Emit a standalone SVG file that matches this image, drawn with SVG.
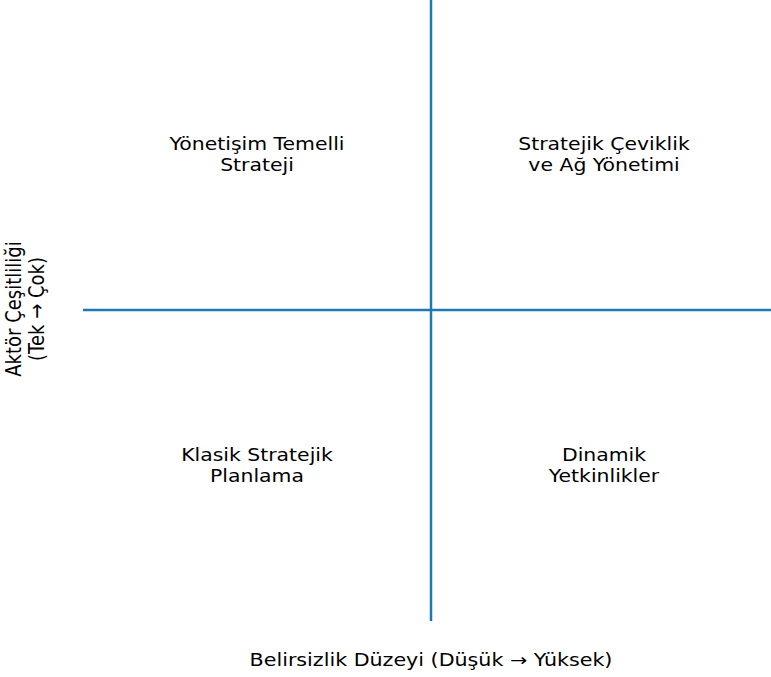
<svg xmlns="http://www.w3.org/2000/svg" width="771" height="677" viewBox="0 0 771 677">
<style>
.q{font-family:"DejaVu Sans",sans-serif;font-size:17px;fill:#000;text-anchor:middle}
.ax{stroke:#1f77b4;stroke-width:2.5;fill:none}
</style>
<rect width="771" height="677" fill="#fff"/>
<g id="connectors">
<line class="ax" x1="431" y1="0" x2="431" y2="621"/>
<line class="ax" x1="83" y1="310" x2="771" y2="310"/>
</g>
<g id="q1" transform="translate(257,0) scale(1.2,1)"><text class="q" x="0" y="150">Yönetişim Temelli</text><text class="q" x="0" y="171">Strateji</text></g>
<g id="q2" transform="translate(604,0) scale(1.2,1)"><text class="q" x="0" y="150">Stratejik Çeviklik</text><text class="q" x="0" y="171">ve Ağ Yönetimi</text></g>
<g id="q3" transform="translate(257,0) scale(1.2,1)"><text class="q" x="0" y="461">Klasik Stratejik</text><text class="q" x="0" y="482">Planlama</text></g>
<g id="q4" transform="translate(604,0) scale(1.2,1)"><text class="q" x="0" y="461">Dinamik</text><text class="q" x="0" y="482">Yetkinlikler</text></g>
<g id="xlabel" transform="translate(431,0) scale(1.2,1)"><text class="q" x="0" y="666" style="font-size:17.2px">Belirsizlik Düzeyi (Düşük → Yüksek)</text></g>
<g id="ylabel" transform="translate(0,309) scale(1.2,1) rotate(-90)">
<text class="q" x="0" y="17.5" style="font-size:18px">Aktör Çeşitliliği</text>
<text class="q" x="0" y="36.5" style="font-size:18px">(Tek → Çok)</text>
</g>
</svg>
